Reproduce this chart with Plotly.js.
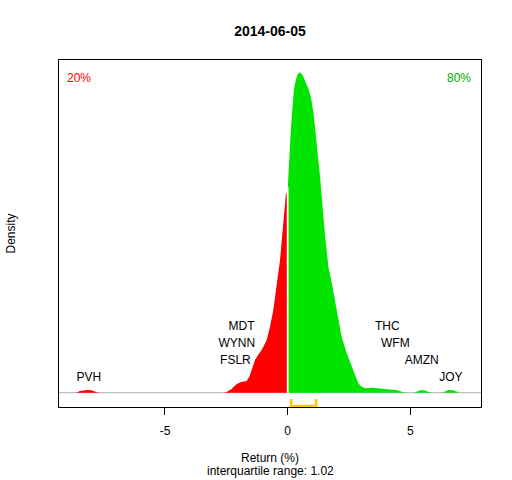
<!DOCTYPE html>
<html>
<head>
<meta charset="utf-8">
<script src="https://cdn.plot.ly/plotly-3.0.1.min.js"></script>
<style>html,body{margin:0;padding:0;background:#fff;}#chart{width:512px;height:480px;}</style>
</head>
<body>
<div id="chart"></div>
<script>
// ---- data ----
const chartDate = "2014-06-05";
const returnGrid = [-8.69,-8.55,-8.48,-8.30,-8.15,-8.00,-7.85,-7.75,-7.60,-2.60,-2.485,-2.30,-2.077,-1.90,-1.669,-1.55,-1.466,-1.331,-1.20,-1.058,-0.854,-0.720,-0.585,-0.446,-0.312,-0.177,-0.079,0,
  0.04,0.08,0.13,0.19,0.25,0.32,0.39,0.48,0.56,0.64,0.76,0.86,0.96,1.05,1.12,1.18,1.25,1.32,1.39,1.45,1.52,1.59,1.66,1.80,1.93,2.07,2.20,2.41,2.61,2.75,2.88,3.00,3.15,3.49,3.63,4.04,4.45,4.72,4.90,5.15,5.25,5.40,5.55,5.72,5.85,6.30,6.40,6.55,6.75,6.90,7.00];
const densityValues = [0,0.0008,0.0030,0.0048,0.0050,0.0045,0.0022,0.0005,0,0,0.0013,0.0060,0.0155,0.0190,0.0209,0.030,0.0405,0.0584,0.068,0.0763,0.0941,0.1179,0.1477,0.1893,0.2370,0.3030,0.352,0.362,
  0.40,0.433,0.470,0.505,0.540,0.556,0.567,0.572,0.570,0.564,0.553,0.541,0.525,0.500,0.472,0.440,0.415,0.386,0.356,0.318,0.282,0.250,0.225,0.195,0.165,0.130,0.100,0.070,0.046,0.029,0.017,0.011,0.0079,0.0089,0.0079,0.0061,0.0048,0.0007,0,0,0.0020,0.0046,0.0046,0.0016,0,0,0.0020,0.0047,0.0046,0.0014,0];
const tickers = ["PVH","FSLR","WYNN","MDT","THC","WFM","AMZN","JOY"];
const tickerReturns = [-8.10,-2.13,-2.07,-1.88,4.06,4.39,5.46,6.65];
const tickerLevel = [0,1,2,3,3,2,1,0];
const quartiles = [0.14,1.16];
const shareNegative = "20%";
const sharePositive = "80%";
const xTickVals = [-5,0,5];
const xTickText = ["-5","0","5"];

// ---- build: split into red (<=0) and green (>=0); break fills across zero-density stretches ----
function side(test){
  const X=[],Y=[];
  let prevX=null,prevY=null;
  returnGrid.forEach((r,i)=>{
    if(!test(r)) return;
    const d=densityValues[i];
    if(prevY===0 && d===0 && X.length){X.push(null);Y.push(null);}
    X.push(r);Y.push(d);prevX=r;prevY=d;
  });
  return {X,Y};
}
const red=side(r=>r<=0), green=side(r=>r>=0);
const dAt0 = densityValues[returnGrid.indexOf(0)];
const xr=[-9.32,7.88], yr=[-0.0255,0.594];
const FONT="Arial, 'Liberation Sans', Helvetica, sans-serif";
const labelBase=0.026, labelStep=0.0305;
const iqr=(quartiles[1]-quartiles[0]).toFixed(2);

const traces=[
  {x:xr,y:[0,0],type:'scatter',mode:'lines',line:{color:'#BEBEBE',width:1.2},hoverinfo:'skip'},
  {x:red.X,y:red.Y,type:'scatter',mode:'lines',fill:'tozeroy',connectgaps:false,fillcolor:'#FF0000',line:{width:0,color:'#FF0000'},hoverinfo:'skip'},
  {x:green.X,y:green.Y,type:'scatter',mode:'lines',fill:'tozeroy',connectgaps:false,fillcolor:'#00E400',line:{width:0,color:'#00E400'},hoverinfo:'skip'},
  {x:[0,0],y:[0,dAt0+0.005],type:'scatter',mode:'lines',line:{color:'#FFFFFF',width:1.8},hoverinfo:'skip'},
  {x:[quartiles[0],quartiles[0],quartiles[1],quartiles[1]],y:[-0.0113,-0.0238,-0.0238,-0.0113],type:'scatter',mode:'lines',line:{color:'#FFC800',width:2.6},hoverinfo:'skip'},
  {x:tickerReturns,y:tickerLevel.map(l=>labelBase+l*labelStep),text:tickers,type:'scatter',mode:'text',textposition:'middle center',textfont:{family:FONT,size:12,color:'#000'},hoverinfo:'skip',cliponaxis:false}
];

const layout={
  width:512,height:480,
  margin:{l:59,r:31,t:60,b:73,pad:0},
  paper_bgcolor:'#fff',plot_bgcolor:'#fff',
  showlegend:false,
  font:{family:FONT,size:12,color:'#000'},
  title:{text:'<b>'+chartDate+'</b>',font:{family:FONT,size:14,color:'#000'},x:0.5,xref:'paper',xanchor:'center',y:1-31/480,yref:'container',yanchor:'middle'},
  xaxis:{range:xr,showgrid:false,zeroline:false,showline:true,mirror:true,linecolor:'#000',linewidth:1,
    ticks:'outside',ticklen:7,tickcolor:'#000',tickwidth:1,tickvals:xTickVals,ticktext:xTickText,
    tickfont:{family:FONT,size:12,color:'#000'},ticklabelstandoff:6},
  yaxis:{range:yr,showgrid:false,zeroline:false,showline:true,mirror:true,linecolor:'#000',linewidth:1,
    ticks:'',showticklabels:false},
  annotations:[
    {text:shareNegative,x:-8.51,y:0.5625,xref:'x',yref:'y',showarrow:false,font:{family:FONT,size:12,color:'#FF0000'},xanchor:'center',yanchor:'middle'},
    {text:sharePositive,x:6.99,y:0.5625,xref:'x',yref:'y',showarrow:false,font:{family:FONT,size:12,color:'#00A800'},xanchor:'center',yanchor:'middle'},
    {text:'Return (%)',x:0.5,y:0,xref:'paper',yref:'paper',yshift:-51,showarrow:false,xanchor:'center',yanchor:'middle',font:{family:FONT,size:12,color:'#000'}},
    {text:'interquartile range: '+iqr,x:0.5,y:0,xref:'paper',yref:'paper',yshift:-64,showarrow:false,xanchor:'center',yanchor:'middle',font:{family:FONT,size:12,color:'#000'}},
    {text:'Density',x:0,y:0.5,xref:'paper',yref:'paper',xshift:-49,textangle:-90,showarrow:false,xanchor:'center',yanchor:'middle',font:{family:FONT,size:12,color:'#000'}}
  ]
};
Plotly.newPlot('chart',traces,layout,{staticPlot:true,displayModeBar:false});
</script>
</body>
</html>
